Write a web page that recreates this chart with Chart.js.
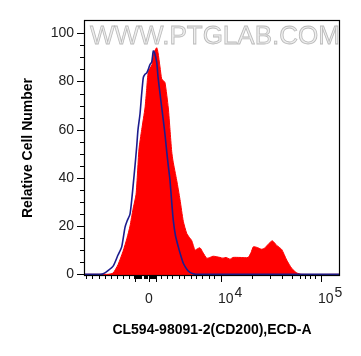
<!DOCTYPE html>
<html>
<head>
<meta charset="utf-8">
<script src="https://cdn.jsdelivr.net/npm/chart.js@4.4.1/dist/chart.umd.min.js"></script>
<style>
  body { margin: 0; background: #fff; }
</style>
</head>
<body>
<canvas id="histChart" width="361" height="356"></canvas>
<script>
// x = position on the biexponential axis (10^4 -> 4, 10^5 -> 5)
const sampleX = [2.63, 2.79, 2.87, 2.92, 2.97, 3.02, 3.06, 3.09, 3.12, 3.15, 3.165, 3.18, 3.207, 3.24, 3.257, 3.273,
  3.31, 3.33, 3.357, 3.37, 3.39, 3.407, 3.42, 3.44, 3.473, 3.49, 3.507, 3.52, 3.557, 3.59, 3.623, 3.657, 3.68, 3.707,
  3.74, 3.76, 3.79, 3.82, 3.857, 3.89, 3.92, 3.957, 3.99, 4.02, 4.05, 4.09, 4.12, 4.19, 4.27, 4.30, 4.323, 4.357,
  4.407, 4.44, 4.473, 4.513, 4.557, 4.607, 4.657, 4.707, 4.757, 4.807, 5.19];
const sampleY = [0, 0, 0, 0.5, 4, 9.5, 15, 20, 27, 33, 42, 52, 60, 69, 77, 84,
  87, 92, 94, 92, 86, 81, 80.5, 79.5, 69, 60, 51, 47, 39, 31, 22, 17, 15.5, 14,
  10, 10.5, 11, 9, 6.7, 7, 7.5, 7.3, 7, 6.7, 7, 6.3, 7, 7, 7, 9, 11.4, 11.2,
  10.4, 11, 12.5, 13.9, 12, 10.3, 5.9, 2.5, 0.6, 0, 0];

const controlX = [2.63, 2.79, 2.823, 2.87, 2.923, 2.97, 3.007, 3.04, 3.06, 3.09, 3.11, 3.123, 3.14, 3.157, 3.17,
  3.19, 3.205, 3.223, 3.24, 3.257, 3.273, 3.29, 3.307, 3.323, 3.335, 3.357, 3.37, 3.39, 3.423, 3.44, 3.457, 3.473,
  3.49, 3.507, 3.523, 3.545, 3.573, 3.60, 3.623, 3.66, 3.69, 3.723, 3.75, 5.19];
const controlY = [0, 0, 0.2, 1.5, 3.5, 8, 11.4, 19.5, 22, 25, 32, 37.6, 45, 53, 60,
  66.5, 74, 81.6, 83, 83.5, 85, 87, 88, 92.6, 92, 88, 82, 75, 64, 58, 51, 45,
  39, 30, 22.4, 16, 11.4, 7.5, 4.6, 2, 0.8, 0.2, 0, 0];

// axis ticks
const xMajorTicks = [3.14, 3.28, 3.35, 4, 5];
const xMinorTicks = [2.647, 2.713, 2.78, 2.837, 2.897, 2.963, 3.023, 3.08,
  3.13, 3.15, 3.16, 3.17, 3.18, 3.19, 3.20, 3.23, 3.24, 3.25, 3.26,
  3.29, 3.30, 3.31, 3.32, 3.33, 3.34,
  3.397, 3.463, 3.513, 3.58, 3.63, 3.697, 3.747, 3.813, 3.88, 3.93,
  4.307, 4.49, 4.607, 4.707, 4.79, 4.84, 4.89, 4.94];
const xLabelAt = [3.28, 4, 5];
const xLabelBase = ['0', '10', '10'];
const xLabelSup = ['', '4', '5'];
const yMajorTicks = [0, 20, 40, 60, 80, 100];
const yMinorTicks = [5, 10, 15, 25, 30, 35, 45, 50, 55, 65, 70, 75, 85, 90, 95];

const watermark = 'WWW.PTGLAB.COM';
const FONT = '"Liberation Sans", Arial, sans-serif';

const toPoints = (xs, ys) => xs.map((x, i) => ({ x: x, y: ys[i] }));

const axisMarks = {
  id: 'axisMarks',
  beforeDatasetsDraw(chart) {
    const { ctx, chartArea } = chart;
    ctx.save();
    ctx.font = '26px ' + FONT;
    ctx.textBaseline = 'alphabetic';
    ctx.fillStyle = '#eeeeee';
    ctx.fillText(watermark, chartArea.left + 6, chartArea.top + 24);
    ctx.strokeStyle = 'rgba(160,160,160,0.7)';
    ctx.lineWidth = 0.8;
    ctx.strokeText(watermark, chartArea.left + 6, chartArea.top + 24);
    ctx.restore();
  },
  afterDraw(chart) {
    const { ctx, chartArea: a, scales } = chart;
    const x = scales.x, y = scales.y;
    ctx.save();
    ctx.strokeStyle = '#000';
    ctx.lineWidth = 1.2;
    ctx.strokeRect(a.left + 0.5, a.top + 0.5, a.right - a.left - 1, a.bottom - a.top - 1);

    ctx.lineWidth = 1;
    ctx.beginPath();
    xMinorTicks.forEach(v => {
      const px = Math.round(x.getPixelForValue(v)) + 0.5;
      ctx.moveTo(px, a.bottom); ctx.lineTo(px, a.bottom + 3);
    });
    xMajorTicks.forEach(v => {
      const px = Math.round(x.getPixelForValue(v)) + 0.5;
      ctx.moveTo(px, a.bottom); ctx.lineTo(px, a.bottom + 6);
    });
    yMinorTicks.forEach(v => {
      const py = Math.round(y.getPixelForValue(v)) + 0.5;
      ctx.moveTo(a.left, py); ctx.lineTo(a.left - 4, py);
    });
    yMajorTicks.forEach(v => {
      const py = Math.round(y.getPixelForValue(v)) + 0.5;
      ctx.moveTo(a.left, py); ctx.lineTo(a.left - 7, py);
    });
    ctx.stroke();

    // x tick labels with raised exponent
    ctx.font = '14px ' + FONT;
    ctx.fillStyle = '#222';
    ctx.textBaseline = 'alphabetic';
    xLabelAt.forEach((v, i) => {
      const px = x.getPixelForValue(v);
      if (!xLabelSup[i]) {
        ctx.textAlign = 'center';
        ctx.fillText(xLabelBase[i], px, a.bottom + 27);
      } else {
        ctx.textAlign = 'left';
        const left = px - 3;
        ctx.fillText(xLabelBase[i], left, a.bottom + 27);
        const w = ctx.measureText(xLabelBase[i]).width;
        ctx.fillText(xLabelSup[i], left + w + 1, a.bottom + 21);
      }
    });
    ctx.restore();
  }
};

new Chart(document.getElementById('histChart'), {
  type: 'line',
  data: {
    datasets: [
      {
        label: 'Control',
        data: toPoints(controlX, controlY),
        borderColor: '#1c1c8e',
        borderWidth: 1.6,
        fill: false,
        pointRadius: 0,
        tension: 0.2,
        order: 0
      },
      {
        label: 'CD200',
        data: toPoints(sampleX, sampleY),
        borderColor: '#ff0000',
        borderWidth: 1,
        backgroundColor: '#ff0000',
        fill: 'start',
        pointRadius: 0,
        tension: 0.2,
        order: 1
      }
    ]
  },
  options: {
    responsive: false,
    animation: false,
    layout: { padding: { top: 20, right: 21, left: 0, bottom: 0 } },
    plugins: {
      legend: { display: false },
      tooltip: { enabled: false }
    },
    scales: {
      x: {
        type: 'linear',
        min: 2.63,
        max: 5.19,
        grid: { display: false, drawTicks: false },
        border: { display: false },
        ticks: { display: false },
        title: {
          display: true,
          text: 'CL594-98091-2(CD200),ECD-A',
          color: '#000',
          font: { family: FONT, size: 14, weight: 'bold' },
          padding: { top: 0, bottom: 17.6 }
        },
        afterFit: scale => { scale.height = 80; }
      },
      y: {
        min: -0.7,
        max: 105.5,
        grid: { display: false, drawTicks: false },
        border: { display: false },
        afterBuildTicks: scale => { scale.ticks = yMajorTicks.map(v => ({ value: v })); },
        ticks: {
          color: '#222',
          padding: 10,
          font: { family: FONT, size: 14 }
        },
        title: {
          display: true,
          text: 'Relative Cell Number',
          color: '#000',
          font: { family: FONT, size: 14, weight: 'bold' },
          padding: { top: 19.6, bottom: 0 }
        },
        afterFit: scale => { scale.width = 84; }
      }
    }
  },
  plugins: [axisMarks]
});
</script>
</body>
</html>
